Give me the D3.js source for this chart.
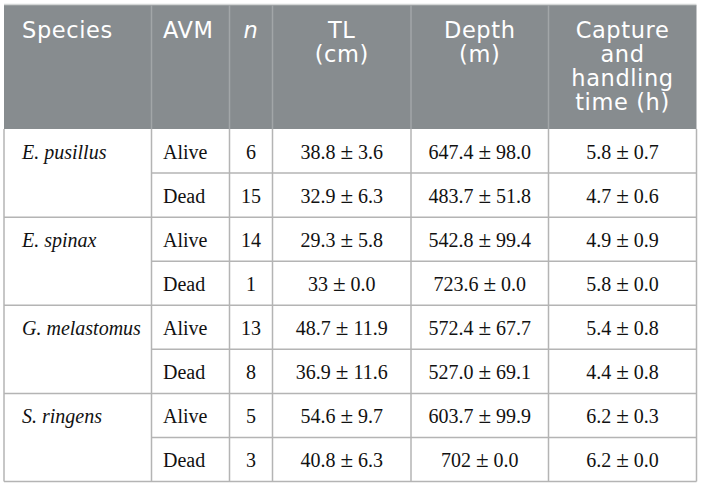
<!DOCTYPE html>
<html>
<head>
<meta charset="utf-8">
<style>
body { margin: 0; background: #ffffff; }
#thetable { display: block; }
.head { font-family: "DejaVu Sans", sans-serif; font-size: 22.5px; fill: #ffffff; letter-spacing: 0.6px; }
.cell { font-family: "Liberation Serif", "Times New Roman", serif; font-size: 20px; fill: #111111; }
.pm { font-size: 23px; }
</style>
<script src="https://cdn.jsdelivr.net/npm/d3@7"></script>
</head>
<body>
<svg id="thetable" width="702" height="488"></svg>
<script>

// table contents, one entry per row
var species = ["E. pusillus", "E. spinax", "G. melastomus", "S. ringens"];
var avm = ["Alive", "Dead", "Alive", "Dead", "Alive", "Dead", "Alive", "Dead"];
var nFish = ["6", "15", "14", "1", "13", "8", "5", "3"];
var tl = ["38.8 ± 3.6", "32.9 ± 6.3", "29.3 ± 5.8", "33 ± 0.0",
	"48.7 ± 11.9", "36.9 ± 11.6", "54.6 ± 9.7", "40.8 ± 6.3"];
var depth = ["647.4 ± 98.0", "483.7 ± 51.8", "542.8 ± 99.4", "723.6 ± 0.0",
	"572.4 ± 67.7", "527.0 ± 69.1", "603.7 ± 99.9", "702 ± 0.0"];
var capture = ["5.8 ± 0.7", "4.7 ± 0.6", "4.9 ± 0.9", "5.8 ± 0.0",
	"5.4 ± 0.8", "4.4 ± 0.8", "6.2 ± 0.3", "6.2 ± 0.0"];
var headers = [["Species"], ["AVM"], ["n"], ["TL", "(cm)"], ["Depth", "(m)"],
	["Capture", "and", "handling", "time (h)"]];

var svg = d3.select("svg");

// column edges, in pixels
var edges = [4, 151.5, 229.5, 272.5, 411, 548.5, 696.5];
var left = edges[0], right = edges[edges.length - 1];
var headTop = 5, headBottom = 129;

var y = d3.scaleLinear().domain([0, avm.length]).range([headBottom, 481.5]);
var rowH = y(1) - y(0);

// header block
svg.append("rect")
	.attr("x", left).attr("y", headTop)
	.attr("width", right - left).attr("height", headBottom - headTop)
	.attr("fill", "#878c8f");
svg.append("line")
	.attr("x1", left).attr("x2", right).attr("y1", 4.5).attr("y2", 4.5)
	.attr("stroke", "#d4d6d6").attr("stroke-width", 1.5);

// vertical rules
svg.selectAll(".vhead").data(edges.slice(1, -1)).enter().append("line")
	.attr("x1", d => d).attr("x2", d => d)
	.attr("y1", headTop).attr("y2", headBottom)
	.attr("stroke", "#a2a6a8").attr("stroke-width", 1.5);
svg.selectAll(".vbody").data(edges).enter().append("line")
	.attr("x1", d => d).attr("x2", d => d)
	.attr("y1", headBottom).attr("y2", y(avm.length))
	.attr("stroke", "#b4b4b4").attr("stroke-width", 1.5);

// horizontal rules: full width between species, from AVM column inside a species
svg.selectAll(".hrow").data(d3.range(1, avm.length + 1)).enter().append("line")
	.attr("x1", d => d % 2 == 0 ? left : edges[1])
	.attr("x2", right)
	.attr("y1", d => y(d)).attr("y2", d => y(d))
	.attr("stroke", "#b4b4b4").attr("stroke-width", 1.5);

// header labels
var head = svg.selectAll(".hcol").data(headers).enter().append("text")
	.attr("class", "head")
	.attr("text-anchor", (d, i) => i < 2 ? "start" : "middle")
	.attr("font-style", (d, i) => i == 2 ? "italic" : null)
	.attr("x", (d, i) => i < 2 ? edges[i] + (i == 0 ? 18 : 11.5) : (edges[i] + edges[i + 1]) / 2);
head.selectAll("tspan").data(d => d).enter().append("tspan")
	.attr("x", function() { return d3.select(this.parentNode).attr("x"); })
	.attr("y", (d, j) => 38 + j * 24)
	.text(d => d);

// body cells; the ± sign is set a bit bigger, like the source font
var cols = [avm, nFish, tl, depth, capture];
cols.forEach(function(col, c) {
	var ci = c + 1;
	var t = svg.selectAll(".c" + ci).data(col).enter().append("text")
		.attr("class", "cell")
		.attr("text-anchor", ci == 1 ? "start" : "middle")
		.attr("x", ci == 1 ? edges[1] + 11.5 : (edges[ci] + edges[ci + 1]) / 2)
		.attr("y", (d, i) => y(i) + rowH / 2 + 7.5);
	t.selectAll("tspan").data(d => d.split(/(±)/)).enter().append("tspan")
		.attr("class", d => d == "±" ? "pm" : null)
		.text(d => d);
});

svg.selectAll(".sp").data(species).enter().append("text")
	.attr("class", "cell")
	.attr("font-style", "italic")
	.attr("x", edges[0] + 18)
	.attr("y", (d, i) => y(i * 2) + rowH / 2 + 7.5)
	.text(d => d);

</script>
</body>
</html>
